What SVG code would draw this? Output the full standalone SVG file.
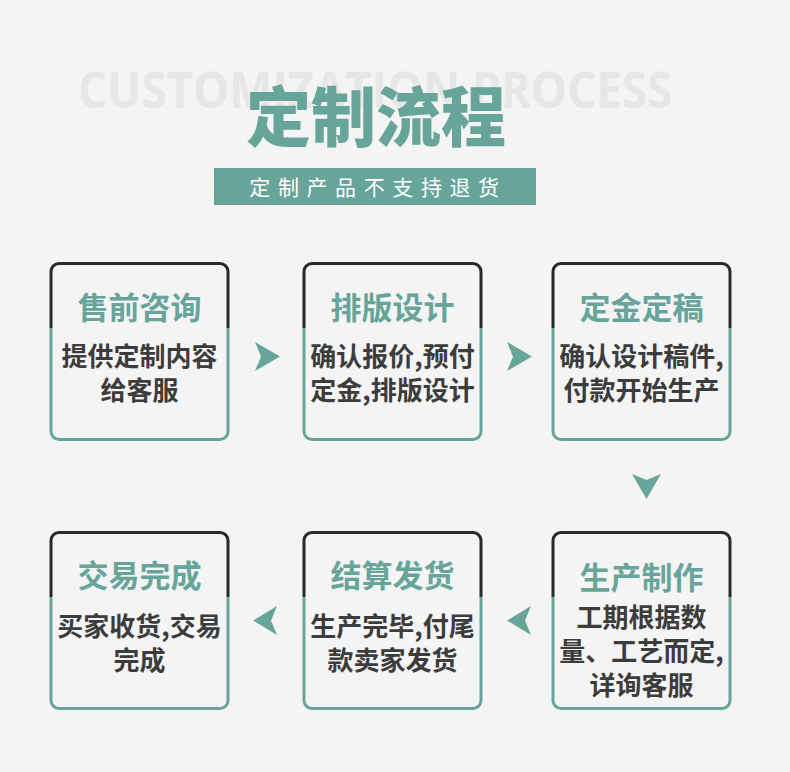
<svg xmlns="http://www.w3.org/2000/svg" width="790" height="772" viewBox="0 0 790 772">
<defs>
<linearGradient id="bd" x1="0" y1="0" x2="0" y2="1">
<stop offset="0" stop-color="#2a2a2a"/>
<stop offset="0.365" stop-color="#2a2a2a"/>
<stop offset="0.365" stop-color="#67a59a"/>
<stop offset="1" stop-color="#67a59a"/>
</linearGradient>
<style>
.box{fill:#f4f4f4;stroke:url(#bd);stroke-width:3}
.ttl{font-family:"Noto Sans CJK SC","Noto Sans",sans-serif;font-weight:700;font-size:31px;fill:#67a59a;text-anchor:middle}
.txt{font-family:"Noto Sans CJK SC","Noto Sans",sans-serif;font-weight:700;font-size:26px;fill:#3c3c3c;text-anchor:middle}
.arr{fill:#67a59a}
</style>
</defs>
<rect width="790" height="772" fill="#f4f4f4"/>
<text x="78" y="108" font-family="'Open Sans','Noto Sans',sans-serif" font-weight="700" font-size="50" fill="#e6e6e6" textLength="594" lengthAdjust="spacingAndGlyphs">CUSTOMIZATION PROCESS</text>
<text x="376" y="141" font-family="'Noto Sans CJK SC',sans-serif" font-weight="900" font-size="65" fill="#67a59a" text-anchor="middle">定制流程</text>
<rect x="214" y="168" width="322" height="37" fill="#67a59a"/>
<text x="378" y="195" font-family="'Noto Sans CJK SC',sans-serif" font-weight="400" font-size="21" fill="#ffffff" text-anchor="middle" letter-spacing="7.6">定制产品不支持退货</text>

<g id="node1"><rect class="box" x="51" y="263.5" width="177" height="176" rx="8"/><text class="ttl" x="139.5" y="319">售前咨询</text><text class="txt" x="139.5" y="366">提供定制内容</text><text class="txt" x="139.5" y="400">给客服</text></g>
<g id="node2"><rect class="box" x="304" y="263.5" width="177" height="176" rx="8"/><text class="ttl" x="392.5" y="319">排版设计</text><text class="txt" x="392.5" y="366">确认报价,预付</text><text class="txt" x="392.5" y="400">定金,排版设计</text></g>
<g id="node3"><rect class="box" x="553" y="263.5" width="177" height="176" rx="8"/><text class="ttl" x="641.5" y="319">定金定稿</text><text class="txt" x="641.5" y="366">确认设计稿件,</text><text class="txt" x="641.5" y="400">付款开始生产</text></g>
<g id="node4"><rect class="box" x="553" y="532.5" width="177" height="176" rx="8"/><text class="ttl" x="641.5" y="589">生产制作</text><text class="txt" x="641.5" y="627">工期根据数</text><text class="txt" x="641.5" y="661">量、工艺而定,</text><text class="txt" x="641.5" y="695">详询客服</text></g>
<g id="node5"><rect class="box" x="304" y="532.5" width="177" height="176" rx="8"/><text class="ttl" x="392.5" y="587">结算发货</text><text class="txt" x="392.5" y="636">生产完毕,付尾</text><text class="txt" x="392.5" y="670">款卖家发货</text></g>
<g id="node6"><rect class="box" x="51" y="532.5" width="177" height="176" rx="8"/><text class="ttl" x="139.5" y="587">交易完成</text><text class="txt" x="139.5" y="636">买家收货,交易</text><text class="txt" x="139.5" y="670">完成</text></g>

<g id="connectors">
<polygon class="arr" points="255,342 280,356.5 255,371 261,356.5"/>
<polygon class="arr" points="507,342 532,356.5 507,371 513,356.5"/>
<polygon class="arr" points="632,474 646.5,480 661,474 646.5,499"/>
<polygon class="arr" points="531,606 507,620.5 531,635 525,620.5"/>
<polygon class="arr" points="277,606 253,620.5 277,635 271,620.5"/>
</g>
</svg>
